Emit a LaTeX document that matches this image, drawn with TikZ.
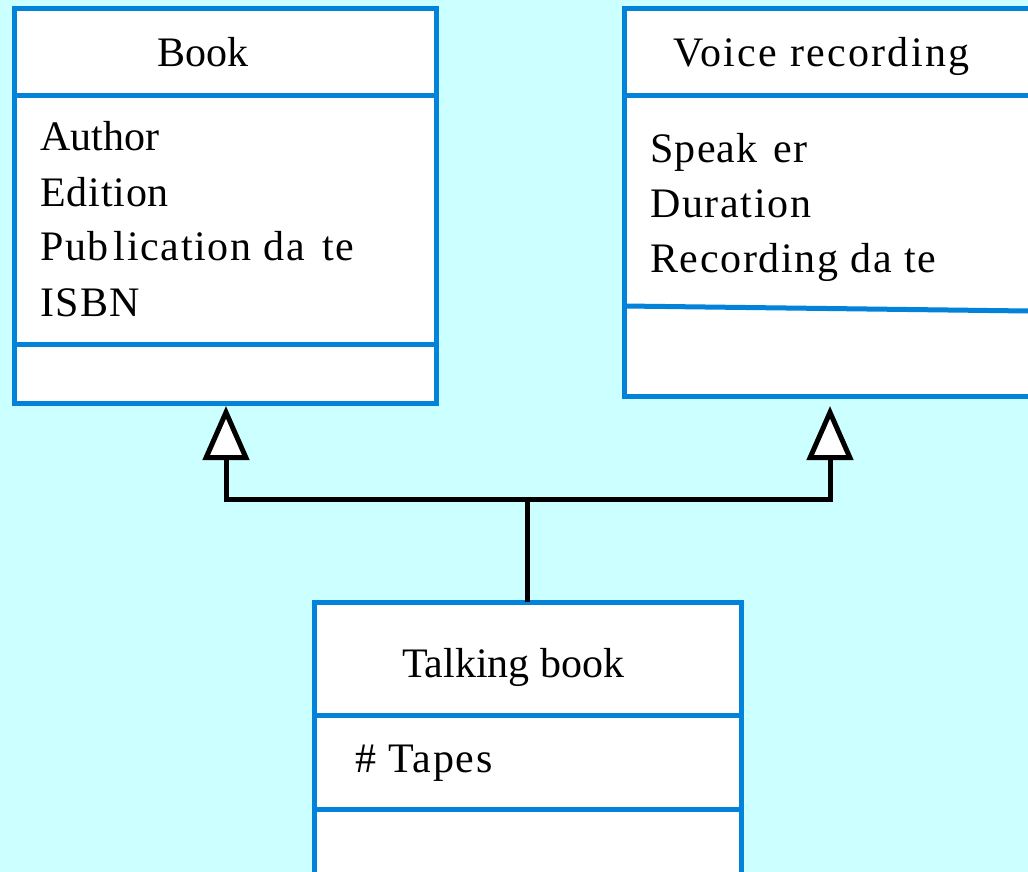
\documentclass[tikz,border=0pt]{standalone}
\usepackage{fontspec}
\setmainfont{Liberation Serif}
\usetikzlibrary{arrows.meta}
\definecolor{bgcyan}{HTML}{CCFFFF}
\definecolor{umlblue}{HTML}{0382D9}
\newcommand{\trk}[2]{{\addfontfeature{LetterSpace=#1}#2}}
\begin{document}
\begin{tikzpicture}[x=1pt,y=-1pt,
  umlbox/.style={draw=umlblue, line width=5pt, fill=white, inner sep=0pt, outer sep=0pt},
  divider/.style={draw=umlblue, line width=5pt},
  lbl/.style={anchor=base west, inner sep=0pt, font=\fontsize{42}{50}\selectfont},
  inherit/.style={draw=black, line width=5pt,
    -{Triangle[length=54pt,width=46pt,fill=white]}},
  link/.style={draw=black, line width=5pt}]
\fill[bgcyan] (0,0) rectangle (1028,872);
\useasboundingbox (0,0) rectangle (1028,872);
\clip (0,0) rectangle (1028,872);

% boxes
\node[umlbox, minimum width=421.5pt, minimum height=394pt] (book) at (225.25,206) {};
\node[umlbox, minimum width=420.5pt, minimum height=387.5pt] (voice) at (834.75,202.75) {};
\node[umlbox, minimum width=427pt, minimum height=283pt] (talking) at (527.5,743.5) {};

% compartments
\draw[divider] ([yshift=-86.5pt]book.north west) -- ([yshift=-86.5pt]book.north east);
\draw[divider] ([yshift=-335.5pt]book.north west) -- ([yshift=-335.5pt]book.north east);
\draw[divider] ([yshift=-86.5pt]voice.north west) -- ([yshift=-86.5pt]voice.north east);
\draw[divider] ([yshift=-297pt]voice.north west) -- ([yshift=-302.2pt]voice.north east);
\draw[divider] ([yshift=-113.5pt]talking.north west) -- ([yshift=-113.5pt]talking.north east);
\draw[divider] ([yshift=-207.5pt]talking.north west) -- ([yshift=-207.5pt]talking.north east);

% texts
\node[lbl] (booktitle) at (157,67) {Book};
\node[lbl] (a1) at (40,150) {Author};
\node[lbl] (a2) at (40,206) {\trk{2}{Edition}};
\node[lbl] (a3) at (40,260) {\trk{4}{Pub\kern5pt lication da\kern17pt te}};
\node[lbl] (a4) at (40,316) {\trk{3}{ISBN}};

\node[lbl] (voicetitle) at (673,67) {\trk{5.5}{Voice recording}};
\node[lbl] (v1) at (650,162) {\trk{3}{Speak\kern16pt er}};
\node[lbl] (v2) at (650,217) {\trk{4}{Duration}};
\node[lbl] (v3) at (650,272) {\trk{4}{Recording da\kern12pt te}};

\node[lbl] (talkingtitle) at (402,677) {Talking book};
\node[lbl] (t1) at (355,772) {\trk{4}{\# Tapes}};

% connectors
\coordinate (joint) at (527.5,499.5);
\coordinate (lcorner) at (226,499.5);
\coordinate (rcorner) at (830,499.5);
\draw[link] (talking.north) -- (joint);
\draw[inherit, shorten >=3pt] (joint) -- (lcorner) -- (lcorner |- book.south);
\draw[inherit, shorten >=9.5pt] (joint) -- (rcorner) -- (rcorner |- voice.south);
\end{tikzpicture}
\end{document}
